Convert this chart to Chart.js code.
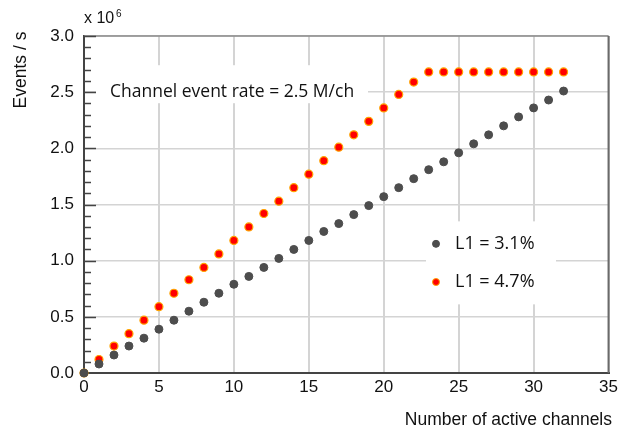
<!DOCTYPE html>
<html>
<head>
<meta charset="utf-8">
<script src="https://cdn.jsdelivr.net/npm/chart.js@4"></script>
<style>
  html, body { margin: 0; padding: 0; background: #fff; }
  #wrap { width: 622px; height: 433px; }
</style>
</head>
<body>
<div id="wrap"><canvas id="rateChart" width="622" height="433"></canvas></div>
<script>
// number of active channels
const channels = [0, 1, 2, 3, 4, 5, 6, 7, 8, 9, 10, 11, 12, 13, 14, 15, 16,
  17, 18, 19, 20, 21, 22, 23, 24, 25, 26, 27, 28, 29, 30, 31, 32]
// events per second (x 10^6)
const rateL1low = [0, 0.08, 0.16, 0.24, 0.31, 0.39, 0.47, 0.55, 0.63, 0.71, 0.79,
  0.86, 0.94, 1.02, 1.10, 1.18, 1.26, 1.33, 1.41, 1.49, 1.57, 1.65, 1.73,
  1.81, 1.88, 1.96, 2.04, 2.12, 2.20, 2.28, 2.36, 2.43, 2.51]
const rateL1high = [0, 0.12, 0.24, 0.35, 0.47, 0.59, 0.71, 0.83, 0.94, 1.06, 1.18,
  1.30, 1.42, 1.53, 1.65, 1.77, 1.89, 2.01, 2.12, 2.24, 2.36, 2.48, 2.59,
  2.68, 2.68, 2.68, 2.68, 2.68, 2.68, 2.68, 2.68, 2.68, 2.68]
const seriesLabels = ["L1 = 3.1%", "L1 = 4.7%"]
const xTicks = [0, 5, 10, 15, 20, 25, 30, 35]
const yTicks = [0, 0.5, 1.0, 1.5, 2.0, 2.5, 3.0]
const note = "Channel event rate = 2.5 M/ch"

const ctx = document.getElementById("rateChart").getContext("2d")
const labelFont = "'Liberation Sans', Arial, sans-serif"
const noteFont = "'Open Sans', 'Noto Sans', sans-serif"

// frame, inward minor ticks, note box, legend and axis titles
const decorations = {
  id: "decorations",
  beforeDatasetsDraw(chart) {
    const c = chart.ctx
    const a = chart.chartArea
    const xs = chart.scales.x
    const ys = chart.scales.y
    c.save()
    // top and right frame
    c.strokeStyle = "#8a8a8a"
    c.lineWidth = 1.5
    c.beginPath()
    c.moveTo(a.left, a.top)
    c.lineTo(a.right, a.top)
    c.stroke()
    c.strokeStyle = "#6a6a6a"
    c.lineWidth = 2
    c.beginPath()
    c.moveTo(a.right, a.top)
    c.lineTo(a.right, a.bottom)
    c.stroke()

    // white box behind the note
    c.fillStyle = "#fff"
    c.fillRect(xs.getPixelForValue(0.8), ys.getPixelForValue(2.74), 272, 38)
    // white box behind the legend
    c.fillRect(426, ys.getPixelForValue(1.35), 130, 83)

    // minor ticks on the left axis, pointing inward
    c.strokeStyle = "#444"
    c.lineWidth = 1.5
    for (let i = 1; i <= 30; i++) {
      const y = Math.round(ys.getPixelForValue(i / 10)) + 0.5
      const len = i % 5 === 0 ? 12 : 7
      c.beginPath()
      c.moveTo(a.left, y)
      c.lineTo(a.left + len, y)
      c.stroke()
    }

    // note text
    c.fillStyle = "#111"
    c.font = "17.5px " + noteFont
    c.textBaseline = "middle"
    c.textAlign = "left"
    c.fillText(note, 110, ys.getPixelForValue(2.5))

    // legend
    const items = [
      { y: 1.15, color: "#4d4d4d", border: "#4d4d4d" },
      { y: 0.81, color: "#ff0000", border: "#ffa500" }
    ]
    c.font = "18px " + noteFont
    items.forEach((it, i) => {
      const py = ys.getPixelForValue(it.y)
      c.beginPath()
      c.arc(436, py, 3.5, 0, Math.PI * 2)
      c.fillStyle = it.color
      c.fill()
      c.lineWidth = 1
      c.strokeStyle = it.border
      c.stroke()
      c.fillStyle = "#111"
      c.fillText(seriesLabels[i], 455, py)
    })

    // axis titles
    c.font = "16px " + labelFont
    c.fillStyle = "#111"
    c.textAlign = "left"
    c.fillText("x 10", 84, 19)
    c.font = "10px " + labelFont
    c.fillText("6", 116, 14)
    c.font = "17.5px " + labelFont
    c.textAlign = "right"
    c.fillText("Number of active channels", 612, 420)
    c.translate(21, 70)
    c.rotate(-Math.PI / 2)
    c.textAlign = "center"
    c.fillText("Events / s", 0, 0)
    c.restore()
  }
}

new Chart(ctx, {
  type: "scatter",
  data: {
    datasets: [
      {
        label: seriesLabels[0],
        data: channels.map((n, i) => ({ x: n, y: rateL1low[i] })),
        backgroundColor: "#4d4d4d",
        borderColor: "#4d4d4d",
        borderWidth: 1,
        pointRadius: 4,
        clip: false
      },
      {
        label: seriesLabels[1],
        data: channels.map((n, i) => ({ x: n, y: rateL1high[i] })),
        backgroundColor: "#ff0000",
        borderColor: "#ffa500",
        borderWidth: 1.2,
        pointRadius: 4,
        clip: false
      }
    ]
  },
  options: {
    responsive: false,
    animation: false,
    layout: { padding: { top: 36, right: 13, left: 0, bottom: 0 } },
    plugins: {
      legend: { display: false },
      tooltip: { enabled: false }
    },
    scales: {
      x: {
        type: "linear",
        min: 0,
        max: 35,
        afterBuildTicks: (s) => { s.ticks = xTicks.map((v) => ({ value: v })) },
        afterFit: (s) => { s.height = 60 },
        grid: { color: "#d4d4d4", lineWidth: 2, drawTicks: false },
        border: { color: "#444", width: 2 },
        ticks: {
          padding: 4,
          color: "#111",
          font: { family: labelFont, size: 17 },
          maxRotation: 0
        }
      },
      y: {
        min: 0,
        max: 3,
        afterBuildTicks: (s) => { s.ticks = yTicks.map((v) => ({ value: v })) },
        afterFit: (s) => { s.width = 84 },
        grid: { color: "#d4d4d4", lineWidth: 1.5, drawTicks: false },
        border: { color: "#444", width: 2 },
        ticks: {
          padding: 10,
          color: "#111",
          font: { family: labelFont, size: 17 },
          callback: (v) => v.toFixed(1)
        }
      }
    }
  },
  plugins: [decorations]
})
</script>
</body>
</html>
